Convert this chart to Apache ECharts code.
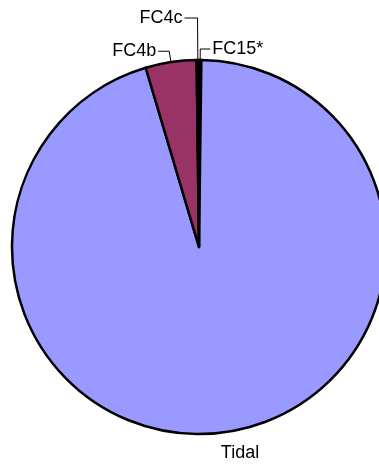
<!DOCTYPE html>
<html>
<head>
<meta charset="utf-8">
<script src="https://cdn.jsdelivr.net/npm/echarts@6/dist/echarts.min.js"></script>
<style>
  html, body { margin: 0; padding: 0; background: #ffffff; }
  #chart { width: 379px; height: 464px; }
</style>
</head>
<body>
<div id="chart"></div>
<script>
// Share of each category (percent), clockwise from 12 o'clock
const categories = ['FC15*', 'Tidal', 'FC4b', 'FC4c'];
const values = [0.2, 95.2, 4.4, 0.2];
const colors = ['#CCFFFF', '#9999FF', '#993366', '#FFFFCC'];

// Leader-line lengths per label: [radial segment, horizontal segment]
const leader = {
  'FC15*': [11, 10],
  'Tidal': [20, 0],
  'FC4b': [11, 11],
  'FC4c': [42, 13]
};

const chart = echarts.init(document.getElementById('chart'), null, { renderer: 'canvas' });

const data = categories.map((name, i) => ({
  name: name,
  value: values[i],
  itemStyle: { color: colors[i] },
  labelLine: {
    show: name !== 'Tidal',
    length: leader[name][0],
    length2: leader[name][1]
  }
}));

chart.setOption({
  animation: false,
  backgroundColor: '#ffffff',
  series: [{
    type: 'pie',
    center: [199, 247],
    radius: [0, 187],
    startAngle: 90,
    clockwise: true,
    avoidLabelOverlap: false,
    minAngle: 0,
    data: data,
    itemStyle: {
      borderColor: '#000000',
      borderWidth: 2.5
    },
    label: {
      show: true,
      position: 'outside',
      formatter: '{b}',
      color: '#000000',
      fontFamily: '"Liberation Sans", Arial, sans-serif',
      fontSize: 18,
      distanceToLabelLine: 2
    },
    labelLine: {
      show: true,
      smooth: false,
      lineStyle: { color: '#000000', width: 1 }
    },
    emphasis: { disabled: true },
    labelLayout: function (params) {
      if (categories[params.dataIndex] === 'Tidal') {
        return { x: 240, y: 453, align: 'center', verticalAlign: 'middle' };
      }
      return {};
    }
  }]
});
</script>
</body>
</html>
